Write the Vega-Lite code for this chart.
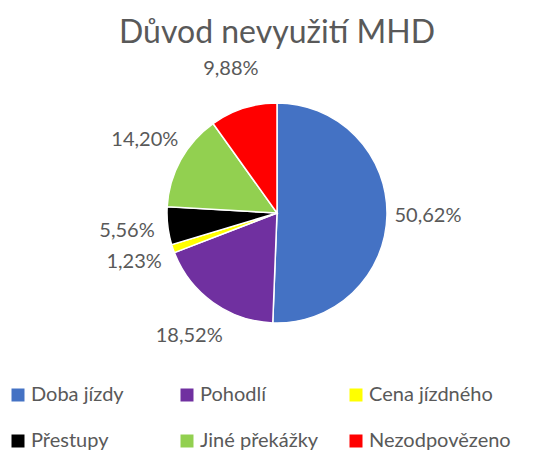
{
  "$schema": "https://vega.github.io/schema/vega-lite/v6.json",
  "width": 554,
  "height": 426,
  "autosize": {"type": "none"},
  "padding": {"left": 0, "top": 0, "right": 3, "bottom": 24},
  "background": "white",
  "title": {
    "text": "Důvod nevyužití MHD",
    "font": "Lato",
    "fontSize": 32,
    "fontWeight": "normal",
    "color": "#595959",
    "anchor": "middle",
    "baseline": "alphabetic",
    "offset": -75
  },
  "data": {
    "values": [
      {"i": 1, "reason": "Doba jízdy", "pct": 50.62},
      {"i": 2, "reason": "Pohodlí", "pct": 18.52},
      {"i": 3, "reason": "Cena jízdného", "pct": 1.23},
      {"i": 4, "reason": "Přestupy", "pct": 5.56},
      {"i": 5, "reason": "Jiné překážky", "pct": 14.20},
      {"i": 6, "reason": "Nezodpovězeno", "pct": 9.88}
    ]
  },
  "transform": [
    {"calculate": "replace(format(datum.pct, '.2f'), '.', ',') + '%'", "as": "label"}
  ],
  "encoding": {
    "theta": {"field": "pct", "type": "quantitative", "stack": true},
    "order": {"field": "i", "type": "quantitative"}
  },
  "layer": [
    {
      "mark": {"type": "arc", "outerRadius": 110, "stroke": "white", "strokeWidth": 1.5},
      "encoding": {
        "color": {
          "field": "reason",
          "type": "nominal",
          "scale": {
            "domain": ["Doba jízdy", "Pohodlí", "Cena jízdného", "Přestupy", "Jiné překážky", "Nezodpovězeno"],
            "range": ["#4472C4", "#7030A0", "#FFFF00", "#000000", "#92D050", "#FF0000"]
          },
          "legend": {
            "orient": "none",
            "legendX": 8,
            "legendY": 385,
            "direction": "horizontal",
            "columns": 3,
            "title": null,
            "padding": 0,
            "symbolType": "square",
            "symbolSize": 169,
            "symbolStrokeWidth": 0,
            "symbolOpacity": 1,
            "labelFont": "Lato",
            "labelFontSize": 20,
            "labelColor": "#595959",
            "labelOffset": 3,
            "labelLimit": 300,
            "columnPadding": 4,
            "rowPadding": 26,
            "gridAlign": "all"
          }
        }
      }
    },
    {
      "mark": {"type": "text", "radius": 151, "font": "Lato", "fontSize": 20, "fill": "#595959"},
      "encoding": {
        "text": {"field": "label", "type": "nominal"}
      }
    }
  ]
}
